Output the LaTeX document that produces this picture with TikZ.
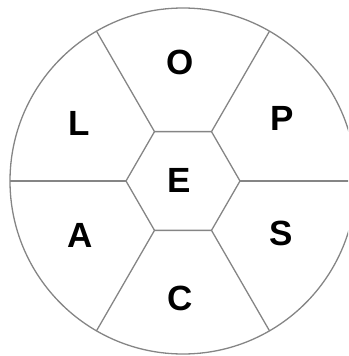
\documentclass[tikz,border=0pt]{standalone}
\usepackage{fontspec}
\setmainfont{Liberation Sans}
\tikzset{
  wheel/.style={draw=black!48, line width=1.3pt},
  letter/.style={font=\fontsize{35}{35}\selectfont\bfseries}
}
\begin{document}
\begin{tikzpicture}[x=1pt,y=1pt]
\clip (-183,-175) rectangle (165,181);
\draw[wheel] (0,0) circle (173);
\draw[wheel] (0:57) -- (60:57) -- (120:57) -- (180:57) -- (240:57) -- (300:57) -- cycle;
\draw[wheel] (0:57) -- (0:180);
\draw[wheel] (60:57) -- (60:173);
\draw[wheel] (120:57) -- (120:173);
\draw[wheel] (180:57) -- (180:173);
\draw[wheel] (240:57) -- (240:173);
\draw[wheel] (300:57) -- (300:173);

\node[letter] (E) at (-4,1) {E};
\node[letter] (O) at (-3,119) {O};
\node[letter] (P) at (99,63) {P};
\node[letter] (L) at (-104,58) {L};
\node[letter] (A) at (-103,-54) {A};
\node[letter] (S) at (98,-52) {S};
\node[letter] (C) at (-3,-117) {C};
\end{tikzpicture}
\end{document}
